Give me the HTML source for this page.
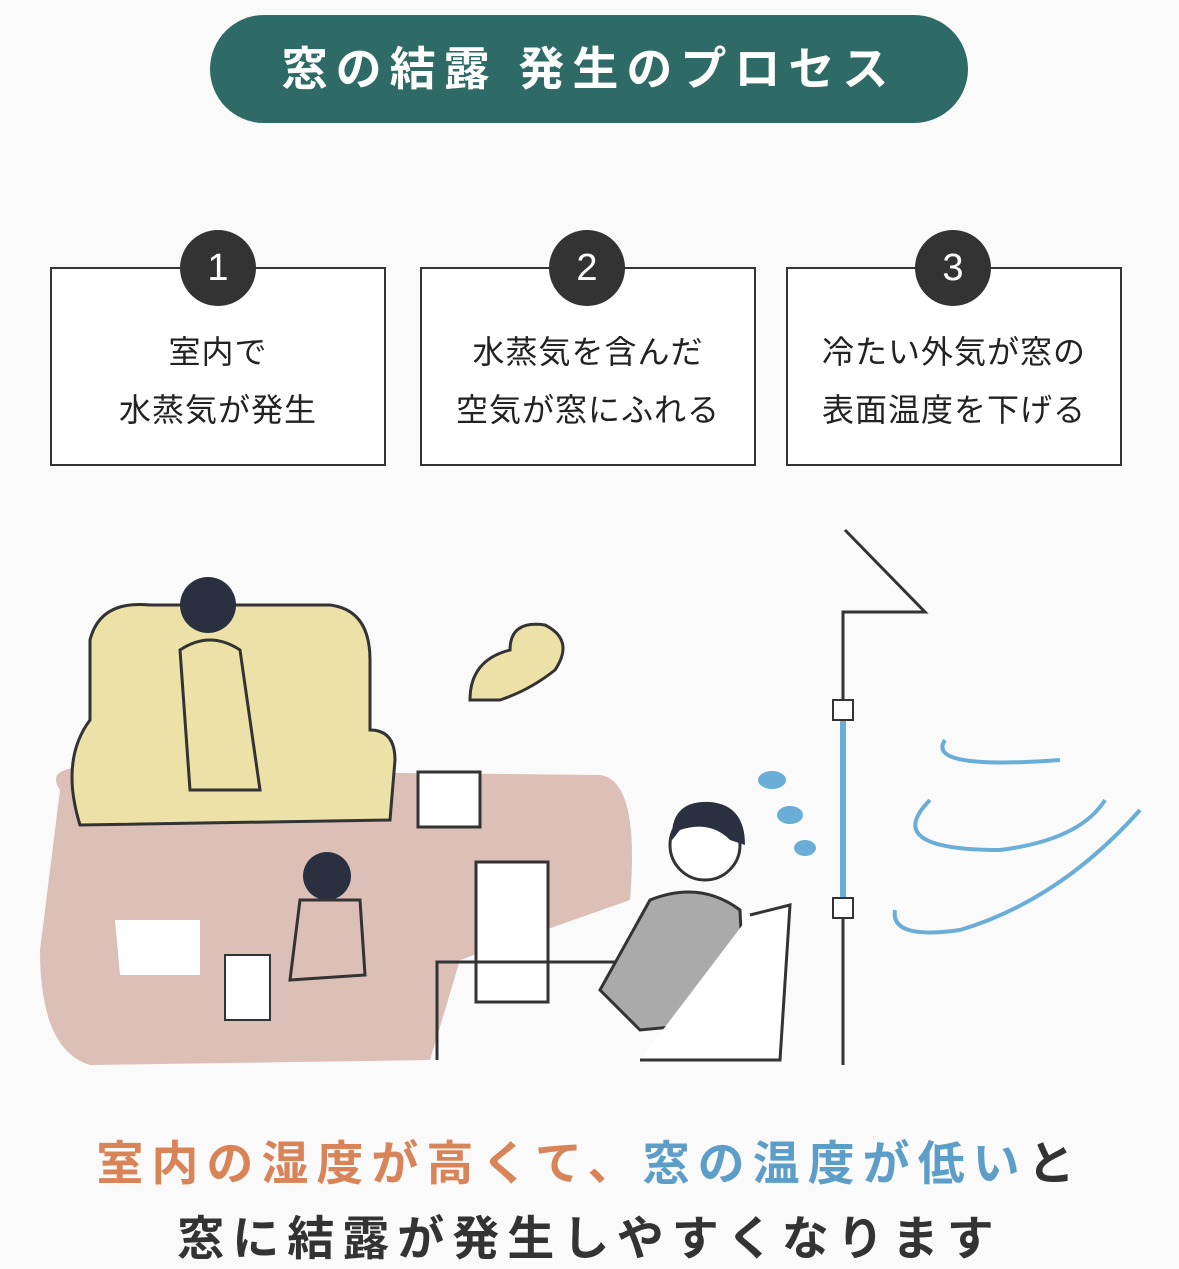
<!DOCTYPE html>
<html><head><meta charset="utf-8"><style>
body{margin:0;width:1179px;height:1263px;background:#fafafa;position:relative;overflow:hidden;font-family:"Liberation Sans","Noto Sans CJK JP",sans-serif;}
.pill{position:absolute;left:210px;top:15px;width:758px;height:108px;border-radius:54px;background:#2f6b66;color:#fff;font-size:46px;font-weight:bold;text-align:center;line-height:108px;letter-spacing:8px}
.box{position:absolute;top:267px;width:336px;height:199px;border:2px solid #333;background:#fff;text-align:center;font-size:32px;color:#222;line-height:58px;box-sizing:border-box;padding-top:54px;letter-spacing:1px}
.num{position:absolute;top:230px;width:76px;height:76px;border-radius:50%;background:#333;color:#fff;font-size:38px;text-align:center;line-height:76px}
.t{position:absolute;left:0;width:1179px;text-align:center;font-weight:bold;font-size:47px;letter-spacing:8px}
</style></head><body>
<div class="pill">窓の結露 発生のプロセス</div>
<div class="box" style="left:50px">室内で<br>水蒸気が発生</div>
<div class="box" style="left:420px">水蒸気を含んだ<br>空気が窓にふれる</div>
<div class="box" style="left:786px">冷たい外気が窓の<br>表面温度を下げる</div>
<div class="num" style="left:180px">1</div>
<div class="num" style="left:549px">2</div>
<div class="num" style="left:915px">3</div>
<svg style="position:absolute;left:0;top:0" width="1179" height="1263">
<path d="M60 790 Q40 760 120 770 L600 775 Q640 780 630 900 L460 960 L430 1060 L90 1065 Q40 1050 40 950 Z" fill="#dcc0b8"/>
<path d="M90 640 Q100 600 150 605 L330 605 Q370 610 370 660 L370 730 Q395 730 395 760 L390 820 L80 825 Q60 760 90 720 Z" fill="#ece2a8" stroke="#333" stroke-width="3"/>
<circle cx="208" cy="605" r="28" fill="#2a3040"/>
<path d="M180 650 Q210 630 240 650 L260 790 L190 790 Z" fill="#ece2a8" stroke="#333" stroke-width="3"/>
<rect x="418" y="772" width="62" height="55" fill="#fff" stroke="#333" stroke-width="3"/>
<path d="M470 700 Q470 660 510 650 Q510 620 545 625 Q575 640 555 670 Q530 690 500 700 Z" fill="#ece2a8" stroke="#333" stroke-width="3"/>
<path d="M115 920 L200 920 L200 975 L120 975 Z" fill="#fff"/>
<circle cx="327" cy="876" r="24" fill="#2a3040"/>
<path d="M300 900 L360 900 L365 975 L290 980 Z" fill="#dcc0b8" stroke="#333" stroke-width="3"/>
<rect x="225" y="955" width="45" height="65" fill="#fff" stroke="#333" stroke-width="2"/>
<rect x="476" y="862" width="72" height="140" fill="#fff" stroke="#333" stroke-width="3"/>
<path d="M437 1060 L437 962 L635 962" fill="none" stroke="#333" stroke-width="3"/>
<circle cx="705" cy="845" r="35" fill="#fff" stroke="#333" stroke-width="3"/>
<path d="M672 840 Q670 800 710 802 Q745 805 745 845 L730 840 Q710 820 680 830 Z" fill="#2a3040"/>
<path d="M650 900 Q700 880 740 910 L745 1020 L640 1030 L600 990 Z" fill="#aaa" stroke="#333" stroke-width="3"/>
<path d="M750 915 L790 905 L780 1060 L640 1060" fill="#fff" stroke="#333" stroke-width="3"/>
<path d="M845 530 L925 612 L843 612 L843 1065" fill="none" stroke="#333" stroke-width="3"/>
<path d="M843 710 L843 905" stroke="#6aaed8" stroke-width="6"/>
<rect x="833" y="700" width="20" height="20" fill="#fff" stroke="#333" stroke-width="2"/>
<rect x="833" y="898" width="20" height="20" fill="#fff" stroke="#333" stroke-width="2"/>
<g fill="#6aaed8"><ellipse cx="772" cy="780" rx="14" ry="9"/><ellipse cx="790" cy="815" rx="13" ry="9"/><ellipse cx="805" cy="848" rx="11" ry="8"/></g>
<g fill="none" stroke="#6aaed8" stroke-width="4"><path d="M945 740 Q925 770 1060 760"/><path d="M930 800 Q880 850 1000 850 Q1080 840 1105 800"/><path d="M895 910 Q890 940 960 930 Q1060 900 1140 810"/></g>
</svg>
<div class="t" style="top:1125px;color:#333"><span style="color:#d98358">室内の湿度が高くて、</span><span style="color:#5d9ec8">窓の温度が低い</span>と</div>
<div class="t" style="top:1200px;color:#333">窓に結露が発生しやすくなります</div>
</body></html>
